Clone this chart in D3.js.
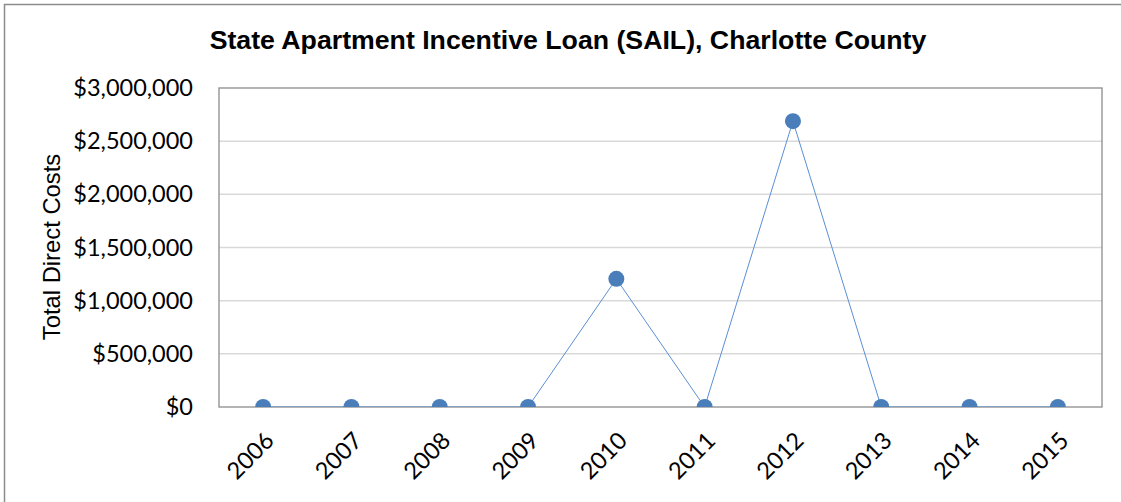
<!DOCTYPE html>
<html><head><meta charset="utf-8">
<script src="https://cdn.jsdelivr.net/npm/d3@7"></script>
<style>body{margin:0;background:#fff}svg{display:block}</style>
</head><body>
<svg id="c" width="1121" height="502"></svg>
<script>
const years = ["2006","2007","2008","2009","2010","2011","2012","2013","2014","2015"];
const costs = [0,0,0,0,1205000,0,2688000,0,0,0];
const yTicks = [0,500000,1000000,1500000,2000000,2500000,3000000];
const titleText = "State Apartment Incentive Loan (SAIL), Charlotte County";
const yTitle = "Total Direct Costs";

const svg = d3.select("#c");
const m = {l:219, t:88, r:1102, b:407};
const x = d3.scaleBand().domain(years).range([m.l, m.r]);
const y = d3.scaleLinear().domain([0,3000000]).range([m.b, m.t]);
const fmt = v => "$" + d3.format(",")(v);

svg.append("rect").attr("x",4.5).attr("y",4.5).attr("width",1140).attr("height",520)
  .attr("fill","#fff").attr("stroke","#8c8c8c").attr("stroke-width",1.5);

svg.append("text").attr("x",568).attr("y",48.5).attr("text-anchor","middle")
  .attr("font-family","Liberation Sans, Arial, sans-serif").attr("font-weight","bold")
  .attr("font-size",26.7).attr("fill","#000").text(titleText);

// gridlines
svg.append("g").selectAll("line").data(yTicks.filter(d=>d>0 && d<3000000)).join("line")
  .attr("x1",m.l).attr("x2",m.r).attr("y1",d=>y(d)).attr("y2",d=>y(d))
  .attr("stroke","#d9d9d9").attr("stroke-width",1.5);

// plot border
svg.append("rect").attr("x",m.l).attr("y",m.t).attr("width",m.r-m.l).attr("height",m.b-m.t)
  .attr("fill","none").attr("stroke","#8c8c8c").attr("stroke-width",1.3);

// y axis labels
const yAxis = d3.axisLeft(y).tickValues(yTicks).tickFormat(fmt).tickSize(0).tickPadding(26);
const ga = svg.append("g").attr("transform",`translate(${m.l},0)`).call(yAxis);
ga.select(".domain").remove();
ga.selectAll("text").attr("font-family","Lato, sans-serif").attr("font-size",23.5).attr("fill","#000");

// x axis labels
const xAxis = d3.axisBottom(x).tickSize(0).tickPadding(0);
const gx = svg.append("g").attr("transform",`translate(0,${m.b})`).call(xAxis);
gx.select(".domain").remove();
gx.selectAll("text").attr("font-family","Lato, sans-serif").attr("font-size",23.5).attr("fill","#000")
  .attr("text-anchor","end").attr("dy",null).attr("y",0)
  .attr("transform","translate(8,31) rotate(-45)")
  .attr("dominant-baseline","middle");

// y title
svg.append("text").attr("transform","translate(60,247) rotate(-90)").attr("text-anchor","middle")
  .attr("font-family","Liberation Sans, Arial, sans-serif").attr("font-size",23.8).attr("fill","#000").text(yTitle);

// clip
svg.append("clipPath").attr("id","pc").append("rect")
  .attr("x",m.l).attr("y",m.t).attr("width",m.r-m.l).attr("height",m.b-m.t);

const data = years.map((d,i)=>({year:d, v:costs[i]}));
const cx = d => x(d.year) + x.bandwidth()/2;
const g = svg.append("g").attr("clip-path","url(#pc)");
g.append("path").datum(data).attr("fill","none").attr("stroke","#5b8fd6").attr("stroke-width",1)
  .attr("d", d3.line().x(cx).y(d=>y(d.v)));
g.selectAll("circle").data(data).join("circle")
  .attr("cx",cx).attr("cy",d=>y(d.v)).attr("r",8).attr("fill","#4a7ebb");
</script>
</body></html>
